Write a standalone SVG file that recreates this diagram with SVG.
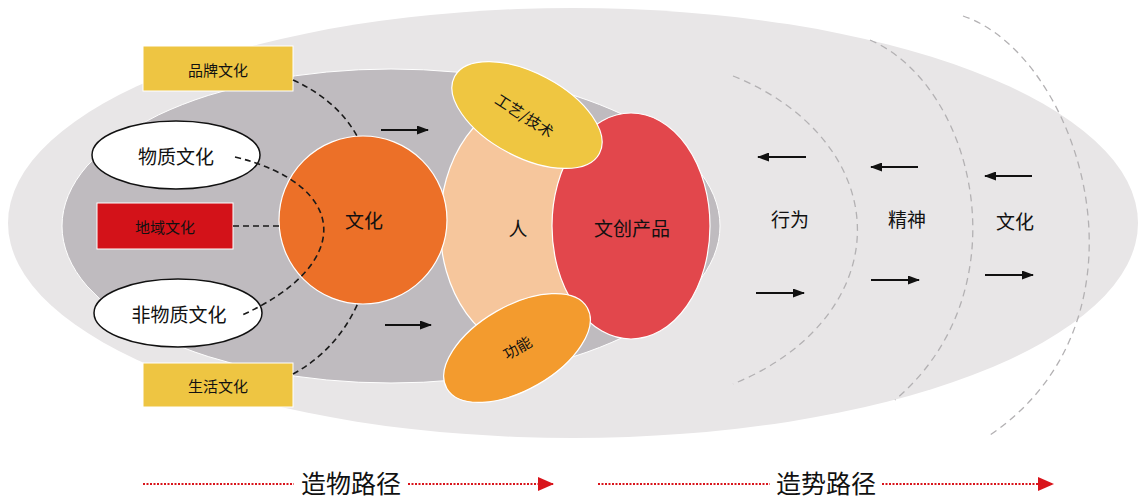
<svg xmlns="http://www.w3.org/2000/svg" width="1138" height="499" viewBox="0 0 1138 499">
<style>
text{font-family:"Noto Sans CJK SC","Liberation Sans",sans-serif;fill:#111;text-anchor:middle;dominant-baseline:central}
.box{font-size:15px}
.lbl{font-size:19px}
.big{font-size:25px}
.dash{fill:none;stroke:#1a1a1a;stroke-width:1.6;stroke-dasharray:6 4}
.gdash{fill:none;stroke:#b3b1b3;stroke-width:1.3;stroke-dasharray:7 5}
.arr{stroke:#111;stroke-width:1.8;marker-end:url(#ah)}
.red{stroke:#d9141b;stroke-width:2;stroke-dasharray:2 1.5}
.redh{marker-end:url(#rh)}
</style>
<defs>
<marker id="ah" viewBox="0 0 12 9" refX="11" refY="4.5" markerWidth="12" markerHeight="9" markerUnits="userSpaceOnUse" orient="auto"><path d="M0,0L12,4.5L0,9z" fill="#111"/></marker>
<marker id="rh" viewBox="0 0 16 14" refX="15" refY="7" markerWidth="16" markerHeight="14" markerUnits="userSpaceOnUse" orient="auto"><path d="M0,0L16,7L0,14z" fill="#d9141b"/></marker>
</defs>
<rect width="1138" height="499" fill="#fff"/>
<g id="outer"><ellipse cx="573" cy="223" rx="565" ry="215" fill="#e8e6e7"/></g>
<g id="inner"><ellipse cx="391" cy="226" rx="329" ry="157" fill="#bfbbbf" stroke="#fff" stroke-width="1"/></g>
<g id="ren"><ellipse cx="530" cy="225" rx="90" ry="125" fill="#f6c69c" stroke="#fff" stroke-width="1.2"/><text class="lbl" x="518" y="227">人</text></g>
<g id="product"><ellipse cx="631" cy="226" rx="79" ry="113" fill="#e2474c" stroke="#fff" stroke-width="1.2"/><text class="lbl" x="632" y="227">文创产品</text></g>
<g id="craft"><ellipse cx="527" cy="115" rx="82" ry="42" transform="rotate(28 527 115)" fill="#efc641" stroke="#fff" stroke-width="1.2"/><text x="525" y="115" font-size="15" transform="rotate(33 525 115)">工艺/技术</text></g>
<g id="func"><ellipse cx="517" cy="348" rx="81" ry="42" transform="rotate(-30 517 348)" fill="#f39b2e" stroke="#fff" stroke-width="1.2"/><text x="517" y="347" font-size="15" transform="rotate(-30 517 347)">功能</text></g>
<g id="culture"><circle cx="363" cy="220" r="84" fill="#ec7028" stroke="#fff" stroke-width="1.2"/><text class="lbl" x="364" y="219">文化</text></g>
<g id="brand"><rect x="143" y="46" width="150" height="45" fill="#eec542" stroke="#fff" stroke-width="1"/><text class="box" x="218" y="69">品牌文化</text></g>
<g id="life"><rect x="143" y="363" width="150" height="44" fill="#eec542" stroke="#fff" stroke-width="1"/><text class="box" x="218" y="385">生活文化</text></g>
<g id="region"><rect x="97" y="203" width="136" height="46" fill="#d31219" stroke="#fff" stroke-width="1"/><text class="box" x="165" y="226">地域文化</text></g>
<g id="material"><ellipse cx="176" cy="155" rx="84" ry="34" fill="#fff" stroke="#111" stroke-width="1.5"/><text class="lbl" x="176" y="155">物质文化</text></g>
<g id="nonmaterial"><ellipse cx="178" cy="313" rx="84" ry="34" fill="#fff" stroke="#111" stroke-width="1.5"/><text class="lbl" x="179" y="313">非物质文化</text></g>
<g id="connectors">
<path class="dash" d="M293,80 Q337,100 357,136"/>
<path class="dash" d="M235,157 C350,185 355,265 240,316"/>
<path class="dash" d="M233,226 H279"/>
<path class="dash" d="M293,374 Q337,350 358,303"/>
<line class="arr" x1="381" y1="130" x2="428" y2="130"/>
<line class="arr" x1="385" y1="325" x2="431" y2="325"/>
<path class="gdash" d="M733,76 A237,175 0 0 1 733,384"/>
<path class="gdash" d="M870,40 C975,85 1025,290 895,400"/>
<path class="gdash" d="M963,16 C1080,55 1165,320 987,437"/>
<line class="arr" x1="806" y1="157" x2="758" y2="157"/>
<line class="arr" x1="918" y1="167" x2="871" y2="167"/>
<line class="arr" x1="1032" y1="176" x2="985" y2="176"/>
<line class="arr" x1="756" y1="293" x2="804" y2="293"/>
<line class="arr" x1="871" y1="280" x2="919" y2="280"/>
<line class="arr" x1="985" y1="275" x2="1033" y2="275"/>
<line class="red" x1="143" y1="484" x2="294" y2="484"/>
<line class="red redh" x1="408" y1="484" x2="553" y2="484"/>
<line class="red" x1="598" y1="484" x2="770" y2="484"/>
<line class="red redh" x1="882" y1="484" x2="1053" y2="484"/>
</g>
<g id="labels">
<text class="lbl" x="790" y="218">行为</text>
<text class="lbl" x="907" y="218">精神</text>
<text class="lbl" x="1015" y="220">文化</text>
<text class="big" x="351" y="482">造物路径</text>
<text class="big" x="826" y="482">造势路径</text>
</g>
</svg>
